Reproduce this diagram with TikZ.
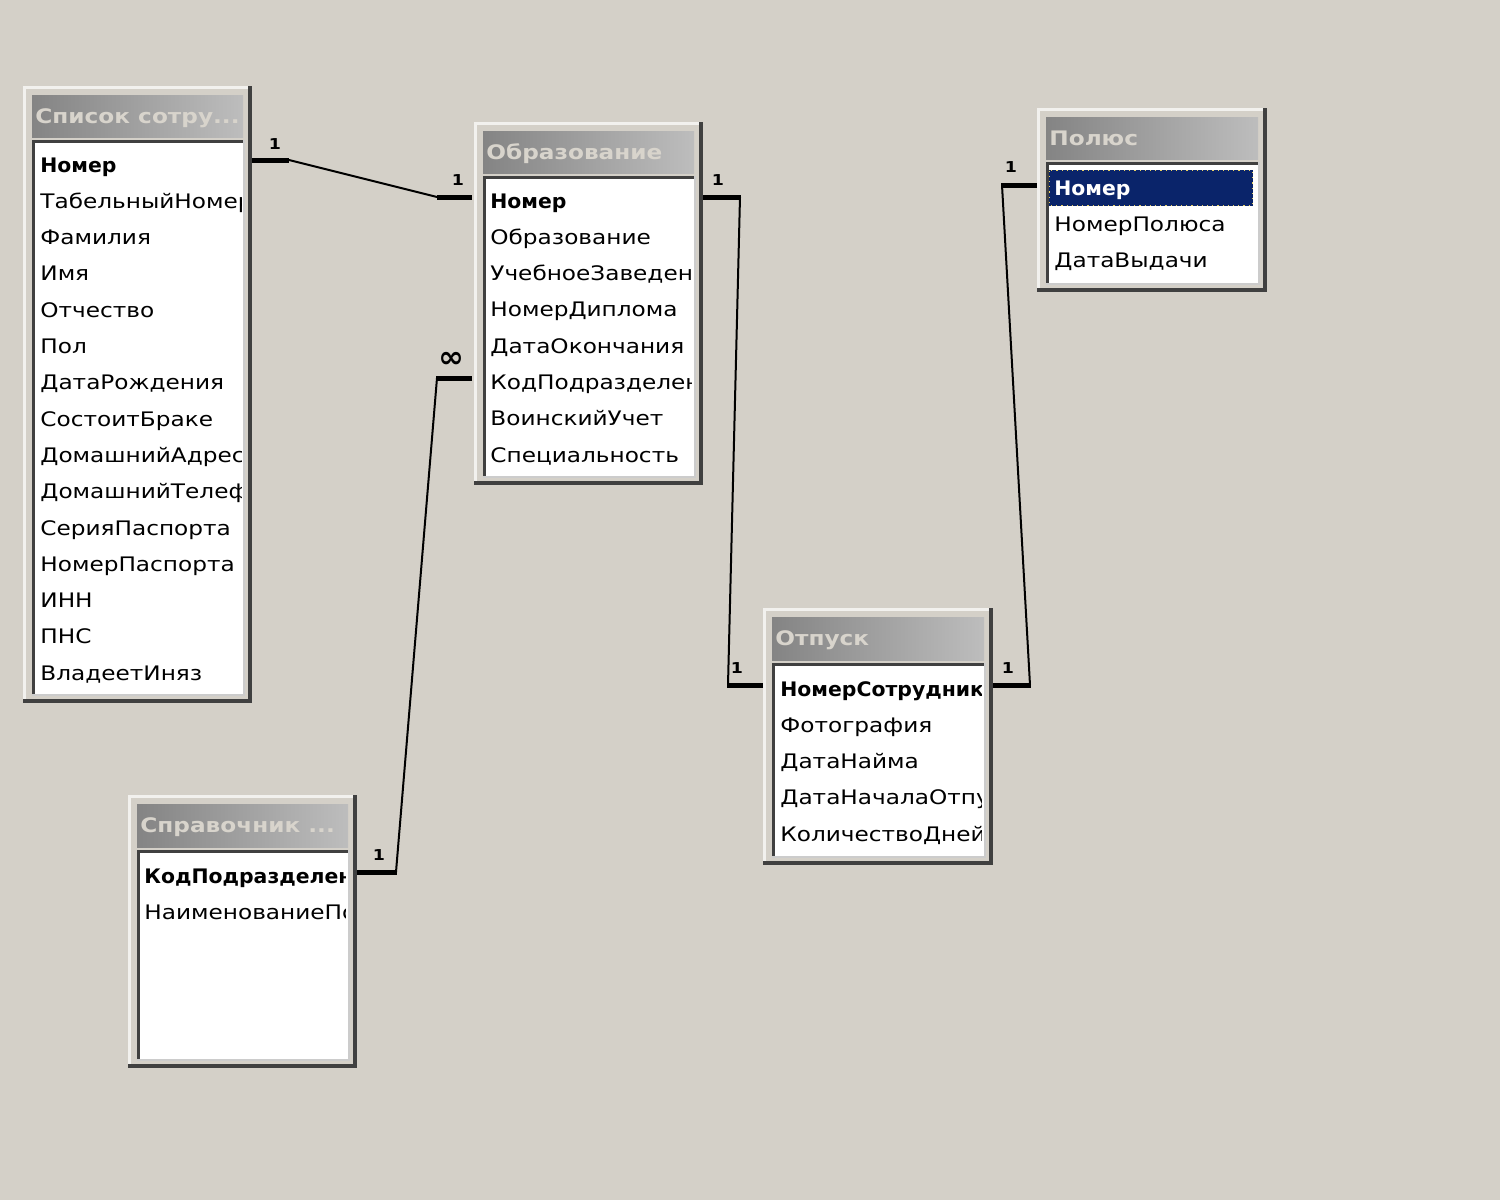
\documentclass[tikz,border=0pt]{standalone}
\usepackage{fontspec}
\newfontfamily\uifont[FakeStretch=1.16]{DejaVu Sans}
\newfontfamily\uikey[FakeStretch=1.02]{DejaVu Sans Bold}
\usetikzlibrary{calc}
\definecolor{bgc}{HTML}{D4D0C8}
\definecolor{dk}{HTML}{404040}
\definecolor{tl}{HTML}{848484}
\definecolor{tr}{HTML}{BDBDBD}
\definecolor{ttext}{HTML}{D8D4CC}
\definecolor{sel}{HTML}{0A246A}
\definecolor{selbd}{HTML}{E8D060}
\newcommand\dbframe[6]{%
 \fill[bgc] (#1,#2) rectangle (#3,#4);
 \draw[white!70!bgc,line width=1.5pt] ({#1+1.5},#4) -- ({#1+1.5},{#2+1.5}) -- (#3,{#2+1.5});
 \draw[dk,line width=2pt] (#1,{#4-2}) -- ({#3-2},{#4-2}) -- ({#3-2},#2);
 \shade[left color=tl,right color=tr] ({#1+9},{#2+9}) rectangle ({#3-9},#5);
 \fill[white] ({#1+9},{#5+3}) rectangle ({#3-9},{#4-9});
 \draw[dk,line width=1.5pt] ({#1+10.5},{#4-9}) -- ({#1+10.5},{#5+4.5}) -- ({#3-9},{#5+4.5});
 \draw[gray!40,line width=1pt] ({#1+9},{#4-8}) -- ({#3-8},{#4-8}) -- ({#3-8},{#5+3});
 \node[ttl] at ({#1+12},{(#2+9+#5)/2+7}) {#6};
}
\begin{document}
\begin{tikzpicture}[x=0.5pt,y=-0.5pt,
  fld/.style={anchor=base west,inner sep=0pt,font=\uifont\fontsize{10pt}{12pt}\selectfont,text=black},
  keyfld/.style={fld,font=\uikey\fontsize{10pt}{12pt}\selectfont},
  ttl/.style={anchor=base west,inner sep=0pt,font=\uifont\bfseries\fontsize{10pt}{12pt}\selectfont,text=ttext},
  lbl/.style={inner sep=0pt,font=\uifont\bfseries\fontsize{7.5pt}{9pt}\selectfont},
  relthick/.style={line width=2.5pt,black},
  relthin/.style={line width=1pt,black}]
\useasboundingbox (0,0) rectangle (1500,1200);
\fill[bgc] (0,0) rectangle (1500,1200);

% ---- Список сотрудников
\dbframe{23}{86}{252}{703}{137}{Список сотру...}
\begin{scope}
\clip (35,142) rectangle (241,692);
\node[keyfld] (sp-0) at (40,{165+7}) {Номер};
\foreach \t [count=\i] in {ТабельныйНомер,Фамилия,Имя,Отчество,Пол,ДатаРождения,СостоитБраке,ДомашнийАдрес,ДомашнийТелефон,СерияПаспорта,НомерПаспорта,ИНН,ПНС,ВладеетИняз}
  \node[fld] (sp-\i) at (40,{165+36.3*\i+7}) {\t};
\end{scope}

% ---- Образование
\dbframe{474}{122}{703}{485}{173}{Образование}
\begin{scope}
\clip (486,178) rectangle (691,475);
\node[keyfld] (ob-0) at (490,{201+7}) {Номер};
\foreach \t [count=\i] in {Образование,УчебноеЗаведение,НомерДиплома,ДатаОкончания,КодПодразделения,ВоинскийУчет,Специальность}
  \node[fld] (ob-\i) at (490,{201+36.3*\i+7}) {\t};
\end{scope}

% ---- Полюс
\dbframe{1037}{108}{1267}{292}{159}{Полюс}
\begin{scope}
\clip (1049,164) rectangle (1256,282);
\fill[sel] (1049,170) rectangle (1253,206);
\draw[selbd,dotted,line width=0.6pt] (1049.5,170.5) rectangle (1252.5,205.5);
\node[keyfld,text=white] (po-0) at (1054,{188+7}) {Номер};
\foreach \t [count=\i] in {НомерПолюса,ДатаВыдачи}
  \node[fld] (po-\i) at (1054,{188+36.3*\i+7}) {\t};
\end{scope}

% ---- Отпуск
\dbframe{763}{608}{993}{865}{660}{Отпуск}
\begin{scope}
\clip (775,665) rectangle (981,855);
\node[keyfld] (ot-0) at (780,{689+7}) {НомерСотрудника};
\foreach \t [count=\i] in {Фотография,ДатаНайма,ДатаНачалаОтпуска,КоличествоДней}
  \node[fld] (ot-\i) at (780,{689+36.3*\i+7}) {\t};
\end{scope}

% ---- Справочник
\dbframe{128}{795}{357}{1068}{847}{Справочник ...}
\begin{scope}
\clip (140,852) rectangle (345,1058);
\node[keyfld] (sr-0) at (144,{876+7}) {КодПодразделения};
\node[fld] (sr-1) at (144,{912+7}) {НаименованиеПодразделения};
\end{scope}

% ---- connector end points
\coordinate (sp-r) at (252,160);
\coordinate (ob-l1) at (472,197);
\coordinate (ob-r1) at (703,197);
\coordinate (ob-l2) at (472,378);
\coordinate (ot-l) at (763,685);
\coordinate (ot-r) at (993,685);
\coordinate (po-l) at (1037,185);
\coordinate (sr-r) at (357,872);

% Список -- Образование
\draw[relthin] ($(sp-r)+(37,0)$) -- ($(ob-l1)+(-35,0)$);
\draw[relthick] (sp-r) -- ++(37,0);
\draw[relthick] (ob-l1) -- ++(-35,0);
\node[lbl] (l1) at (275,144) {1};
\node[lbl] (l2) at (458,180) {1};

% Образование -- Отпуск
\draw[relthin] ($(ob-r1)+(37,0)$) -- ($(ot-l)+(-35,0)$);
\draw[relthick] (ob-r1) -- ++(38,0);
\draw[relthick] (ot-l) -- ++(-36,0);
\node[lbl] (l3) at (718,180) {1};
\node[lbl] (l4) at (737,668) {1};

% Полюс -- Отпуск
\draw[relthin] ($(po-l)+(-35,0)$) -- ($(ot-r)+(37,0)$);
\draw[relthick] (po-l) -- ++(-36,0);
\draw[relthick] (ot-r) -- ++(38,0);
\node[lbl] (l5) at (1011,167) {1};
\node[lbl] (l6) at (1008,668) {1};

% Образование -- Справочник
\draw[relthin] ($(ob-l2)+(-35,0)$) -- ($(sr-r)+(39,0)$);
\draw[relthick] (ob-l2) -- ++(-36,0);
\draw[relthick] (sr-r) -- ++(40,0);
\node[lbl,font=\uikey\fontsize{15pt}{16pt}\selectfont] (l7) at (451,360) {∞};
\node[lbl] (l8) at (379,855) {1};
\end{tikzpicture}
\end{document}
